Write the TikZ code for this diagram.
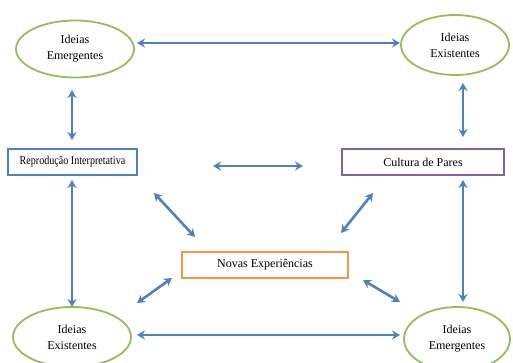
\documentclass[tikz,border=0pt]{standalone}
\usepackage{fontspec}
\usepackage{graphicx}
\setmainfont{Liberation Serif}
\usetikzlibrary{arrows.meta,shapes.geometric}
\definecolor{arrblue}{RGB}{79,129,189}
\definecolor{ovgreen}{RGB}{155,187,89}
\definecolor{bxblue}{RGB}{79,129,189}
\definecolor{bxpurple}{RGB}{128,100,162}
\definecolor{bxorange}{RGB}{247,150,70}
\begin{document}
\begin{tikzpicture}[x=1pt,y=-1pt,
  idea/.style={ellipse,draw=ovgreen,line width=1.8pt,inner sep=0pt,align=center,font=\fontsize{12}{16}\selectfont},
  boxn/.style={rectangle,draw,line width=1.7pt,inner sep=0pt,font=\fontsize{12}{14}\selectfont},
  link/.style={{Stealth[length=8pt,width=9pt]}-{Stealth[length=8pt,width=9pt]},draw=arrblue,line width=2.6pt}]
\useasboundingbox (0,0) rectangle (513,362);
\node[idea,minimum width=118pt,minimum height=57pt] (e1) at (75,49) {Ideias\\Emergentes};
\node[idea,minimum width=108pt,minimum height=60pt] (e2) at (455,45) {Ideias\\Existentes};
\node[idea,minimum width=118pt,minimum height=60pt] (e3) at (72,337) {Ideias\\Existentes};
\node[idea,minimum width=106pt,minimum height=64pt] (e4) at (457,339) {Ideias\\Emergentes};
\node[boxn,draw=bxblue,minimum width=129pt,minimum height=26pt] (r) at (72.5,162) {\scalebox{0.84}[1]{Reprodução Interpretativa}};
\node[boxn,draw=bxpurple,minimum width=162pt,minimum height=26pt] (c) at (423,162) {Cultura de Pares};
\node[boxn,draw=bxorange,minimum width=166pt,minimum height=26pt] (n) at (265,265) {Novas Experiências};
\coordinate (a1) at (137,43); \coordinate (a2) at (400,43);
\coordinate (b1) at (72,90); \coordinate (b2) at (72,140);
\coordinate (c1) at (463,83); \coordinate (c2) at (463,137);
\coordinate (d1) at (213,166); \coordinate (d2) at (303,166);
\coordinate (f1) at (72,180); \coordinate (f2) at (72,307);
\coordinate (g1) at (463,180); \coordinate (g2) at (463,302);
\coordinate (h1) at (154,193); \coordinate (h2) at (195,237);
\coordinate (i1) at (373,193); \coordinate (i2) at (341,233);
\coordinate (j1) at (137,303); \coordinate (j2) at (172,278);
\coordinate (k1) at (363,280); \coordinate (k2) at (400,302);
\coordinate (l1) at (137,335); \coordinate (l2) at (400,335);
\draw[link] (a1) -- (a2);
\draw[link] (b1) -- (b2);
\draw[link] (c1) -- (c2);
\draw[link] (d1) -- (d2);
\draw[link] (f1) -- (f2);
\draw[link] (g1) -- (g2);
\draw[link] (h1) -- (h2);
\draw[link] (i1) -- (i2);
\draw[link] (j1) -- (j2);
\draw[link] (k1) -- (k2);
\draw[link] (l1) -- (l2);
\end{tikzpicture}
\end{document}
